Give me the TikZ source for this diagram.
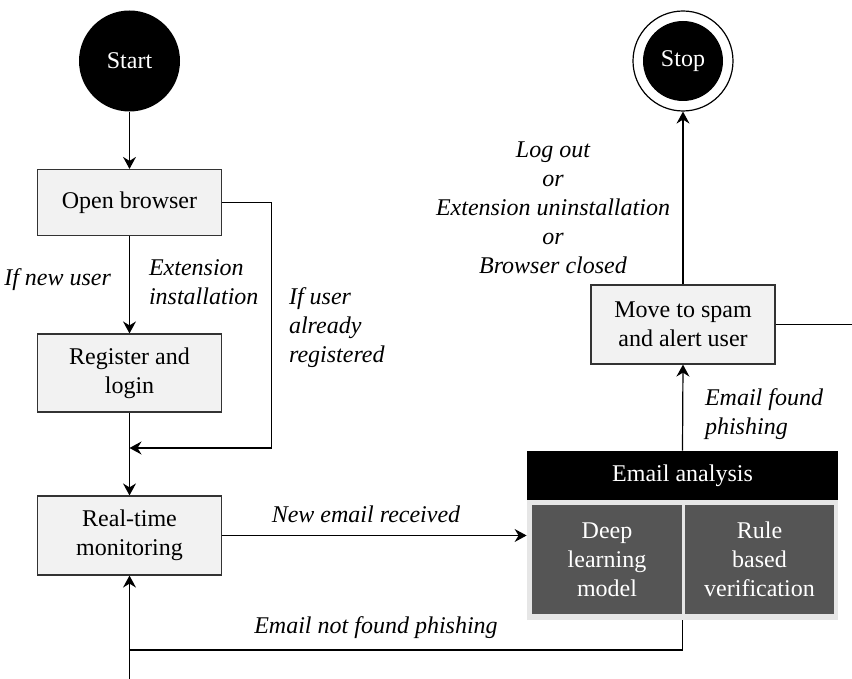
\documentclass[tikz,border=0pt]{standalone}
\usepackage{fontspec}
\setmainfont{Liberation Serif}
\usepackage{tikz}
\usetikzlibrary{positioning, arrows.meta}

\definecolor{boxfill}{HTML}{F2F2F2}
\definecolor{boxline}{HTML}{333333}
\definecolor{panelfill}{HTML}{E6E6E6}
\definecolor{modelfill}{HTML}{555555}

\begin{document}
\begin{tikzpicture}[x=0.5pt, y=-0.5pt,
    every node/.style={font=\fontsize{12}{14.5}\selectfont},
    flow/.style={-{Stealth[length=6pt, width=6.5pt, inset=2pt]}, line width=0.6pt},
    link/.style={line width=0.6pt},
    stepbox/.style={draw=boxline, fill=boxfill, line width=0.6pt, align=center,
      minimum width=92pt, inner sep=2pt},
    terminal/.style={circle, fill=black, text=white, inner sep=0pt},
    modelbox/.style={fill=modelfill, text=white, align=center, inner sep=0pt,
      minimum height=54.5pt},
    cond/.style={font=\fontsize{12}{14.5}\selectfont\itshape}
  ]
    \useasboundingbox (0,0) rectangle (852,679);

    % Start and stop
    \node[terminal, minimum size=50.5pt] (start) at (129.5,61) {Start};
    \node[circle, draw=black, line width=0.6pt, minimum size=50pt, inner sep=0pt] (stop) at (683,61) {};
    \node[terminal, minimum size=40pt] (stopcore) at (stop) {Stop};

    % Steps on the left
    \node[stepbox, minimum height=33pt] (browser) at (129.5,202.5) {Open browser};
    \node[stepbox, minimum height=39pt] (register) at (129.5,373) {Register and\\login};
    \node[stepbox, minimum height=39.5pt] (monitor) at (129.5,535.5) {Real-time\\monitoring};
    \node[stepbox, minimum height=39.5pt] (spam) at (683,324.5) {Move to spam\\and alert user};

    % Email analysis panel
    \node[fill=panelfill, minimum width=155.5pt, minimum height=60pt, inner sep=0pt] (panel) at (682.5,560) {};
    \node[fill=black, text=white, minimum width=155.5pt, minimum height=24.5pt, inner sep=0pt] (analysis) at (682.5,475.5) {Email analysis};
    \node[modelbox, minimum width=75pt] (deep) at (607,559.5) {Deep\\learning\\model};
    \node[modelbox, minimum width=74.5pt] (rule) at (759.5,559.5) {Rule\\based\\verification};

    % Helper points
    \coordinate (merge) at (129.5,448);
    \coordinate (loopjoin) at (129.5,650);
    \coordinate (loopin) at (129.5,679);
    \coordinate (spamout) at (852,324.5);

    % Connectors
    \draw[flow] (start) -- (browser);
    \draw[flow] (browser) -- (register);
    \draw[flow] (browser.east) -- ++(49,0) |- (merge);
    \draw[flow] (register) -- (monitor);
    \draw[flow] (monitor.east) -- (monitor.east -| panel.west);
    \draw[flow] (analysis.north) -- (spam.south);
    \draw[flow] (spam.north) -- (stop.south);
    \draw[link] (spam.east) -- (spamout);
    \draw[link] (panel.south) |- (loopjoin);
    \draw[flow] (loopin) -- (monitor.south);

    % Conditions
    \node[cond, anchor=east] (newuser) at (118,280) {If new user};
    \node[cond, anchor=west, align=left] (install) at (142,282.5) {Extension\\installation};
    \node[cond, anchor=west, align=left] (registered) at (282,327.5) {If user\\already\\registered};
    \node[cond] (received) at (366,514) {New email received};
    \node[cond] (notfound) at (376,628) {Email not found phishing};
    \node[cond, anchor=west, align=left] (found) at (698,414) {Email found\\phishing};
    \node[cond, align=center] (quit) at (553,207.5) {Log out\\or\\Extension uninstallation\\or\\Browser closed};
\end{tikzpicture}
\end{document}
